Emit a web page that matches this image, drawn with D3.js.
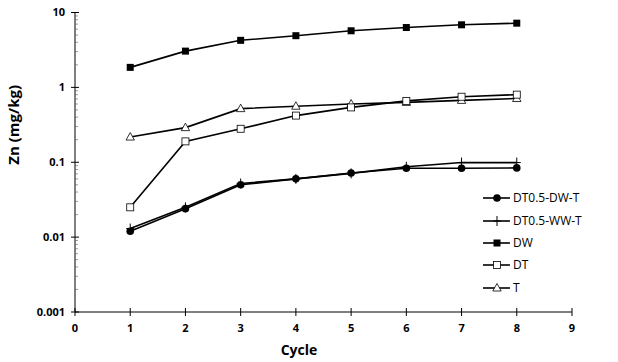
<!DOCTYPE html>
<html>
<head>
<meta charset="utf-8">
<script src="https://cdn.jsdelivr.net/npm/d3@7"></script>
<style>
  body { margin: 0; background: #fff; }
  svg text { font-family: "Open Sans", Lato, sans-serif; fill: #000; }
  .tick-label { font-size: 11px; font-weight: bold; }
  .axis-title { font-size: 14px; font-weight: bold; }
  .legend-text { font-size: 12px; }
</style>
</head>
<body>
<div id="chart"></div>
<script>
// Cycle vs Zn concentration (log scale)

var cycles = [1, 2, 3, 4, 5, 6, 7, 8];
var dtDwT = [0.012, 0.024, 0.050, 0.060, 0.072, 0.083, 0.083, 0.084];
var dtWwT = [0.013, 0.025, 0.052, 0.060, 0.071, 0.087, 0.099, 0.099];
var dw = [1.85, 3.05, 4.25, 4.9, 5.7, 6.3, 6.85, 7.2];
var dt = [0.025, 0.19, 0.28, 0.42, 0.54, 0.66, 0.75, 0.80];
var tOnly = [0.217, 0.29, 0.52, 0.56, 0.60, 0.63, 0.67, 0.71];

var xTicks = [0, 1, 2, 3, 4, 5, 6, 7, 8, 9];
var yTicks = [0.001, 0.01, 0.1, 1, 10];

var seriesNames = ["DT0.5-DW-T", "DT0.5-WW-T", "DW", "DT", "T"];
var seriesValues = [dtDwT, dtWwT, dw, dt, tOnly];
var seriesMarkers = ["circle", "plus", "squareFilled", "squareOpen", "triangle"];

var width = 618, height = 362;
var margin = { top: 12.5, right: 46, bottom: 50, left: 75 };

var svg = d3.select("#chart").append("svg")
  .attr("width", width)
  .attr("height", height);

var xScale = d3.scaleLinear()
  .domain([0, 9])
  .range([margin.left, width - margin.right]);

var yScale = d3.scaleLog()
  .domain([0.001, 10])
  .range([height - margin.bottom, margin.top]);

// y axis line + ticks
var yAxis = svg.append("g").attr("transform", "translate(" + margin.left + ",0)");
yAxis.append("line")
  .attr("x1", 0).attr("x2", 0)
  .attr("y1", yScale(0.001)).attr("y2", yScale(10))
  .attr("stroke", "#000").attr("stroke-width", 1);

// minor log ticks
var minor = [];
yTicks.slice(0, -1).forEach(function(base) {
  for (var k = 2; k <= 9; k++) minor.push(base * k);
});
yAxis.selectAll(".minor").data(minor).enter().append("line")
  .attr("x1", 0).attr("x2", 3)
  .attr("y1", function(d) { return yScale(d); })
  .attr("y2", function(d) { return yScale(d); })
  .attr("stroke", "#555").attr("stroke-width", 0.6);

yAxis.selectAll(".major").data(yTicks).enter().append("line")
  .attr("x1", -4).attr("x2", 4)
  .attr("y1", function(d) { return yScale(d); })
  .attr("y2", function(d) { return yScale(d); })
  .attr("stroke", "#000").attr("stroke-width", 1);

yAxis.selectAll(".ylab").data(yTicks).enter().append("text")
  .attr("class", "tick-label")
  .attr("x", -10)
  .attr("y", function(d) { return yScale(d); })
  .attr("dy", "0.35em")
  .attr("text-anchor", "end")
  .text(function(d) { return d3.format("~g")(d); });

// x axis
var xAxis = svg.append("g").attr("transform", "translate(0," + yScale(0.001) + ")");
xAxis.append("line")
  .attr("x1", xScale(0)).attr("x2", xScale(9))
  .attr("y1", 0).attr("y2", 0)
  .attr("stroke", "#000").attr("stroke-width", 1);

xAxis.selectAll(".xt").data(xTicks).enter().append("line")
  .attr("x1", function(d) { return xScale(d); })
  .attr("x2", function(d) { return xScale(d); })
  .attr("y1", -4).attr("y2", 4)
  .attr("stroke", "#000").attr("stroke-width", 1);

xAxis.selectAll(".xlab").data(xTicks).enter().append("text")
  .attr("class", "tick-label")
  .attr("x", function(d) { return xScale(d); })
  .attr("y", 20)
  .attr("text-anchor", "middle")
  .text(function(d) { return d; });

// axis titles
svg.append("text")
  .attr("class", "axis-title")
  .attr("x", 299)
  .attr("y", 355)
  .attr("text-anchor", "middle")
  .text("Cycle");

svg.append("text")
  .attr("class", "axis-title")
  .style("font-size", "15px")
  .attr("transform", "translate(19," + yScale(Math.sqrt(0.1)) + ") rotate(-90)")
  .attr("text-anchor", "middle")
  .text("Zn (mg/kg)");

// marker drawing
function drawMarker(g, type, x, y) {
  if (type === "circle") {
    g.append("circle").attr("cx", x).attr("cy", y).attr("r", 3.8).attr("fill", "#000");
  } else if (type === "plus") {
    g.append("line").attr("x1", x).attr("x2", x).attr("y1", y - 5).attr("y2", y + 5)
      .attr("stroke", "#000").attr("stroke-width", 1);
    g.append("line").attr("x1", x - 4).attr("x2", x + 4).attr("y1", y).attr("y2", y)
      .attr("stroke", "#000").attr("stroke-width", 1);
  } else if (type === "squareFilled") {
    g.append("rect").attr("x", x - 3.5).attr("y", y - 3.5).attr("width", 7).attr("height", 7)
      .attr("fill", "#000");
  } else if (type === "squareOpen") {
    g.append("rect").attr("x", x - 3.5).attr("y", y - 3.5).attr("width", 7).attr("height", 7)
      .attr("fill", "#fff").attr("stroke", "#000").attr("stroke-width", 0.8);
  } else if (type === "triangle") {
    g.append("path")
      .attr("d", "M" + x + "," + (y - 4.5) + "L" + (x + 4.2) + "," + (y + 3) + "L" + (x - 4.2) + "," + (y + 3) + "Z")
      .attr("fill", "#fff").attr("stroke", "#000").attr("stroke-width", 0.8);
  }
}

var line = d3.line()
  .x(function(d) { return xScale(d.x); })
  .y(function(d) { return yScale(d.y); });

// draw series in reverse so the first ones sit on top
for (var s = seriesNames.length - 1; s >= 0; s--) {
  var pts = cycles.map(function(c, i) { return { x: c, y: seriesValues[s][i] }; });
  var g = svg.append("g");
  g.append("path").datum(pts)
    .attr("d", line)
    .attr("fill", "none")
    .attr("stroke", "#000")
    .attr("stroke-width", 1.6);
  pts.forEach(function(p) {
    drawMarker(g, seriesMarkers[s], xScale(p.x), yScale(p.y));
  });
}

// legend
var legend = svg.append("g");
var legendY = [198, 221, 243, 265, 288];
seriesNames.forEach(function(name, i) {
  var y = legendY[i];
  legend.append("line")
    .attr("x1", 483).attr("x2", 510)
    .attr("y1", y).attr("y2", y)
    .attr("stroke", "#000").attr("stroke-width", 1.6);
  drawMarker(legend, seriesMarkers[i], 497, y);
  legend.append("text")
    .attr("class", "legend-text")
    .attr("x", 513)
    .attr("y", y)
    .attr("dy", "0.35em")
    .text(name);
});
</script>
</body>
</html>
